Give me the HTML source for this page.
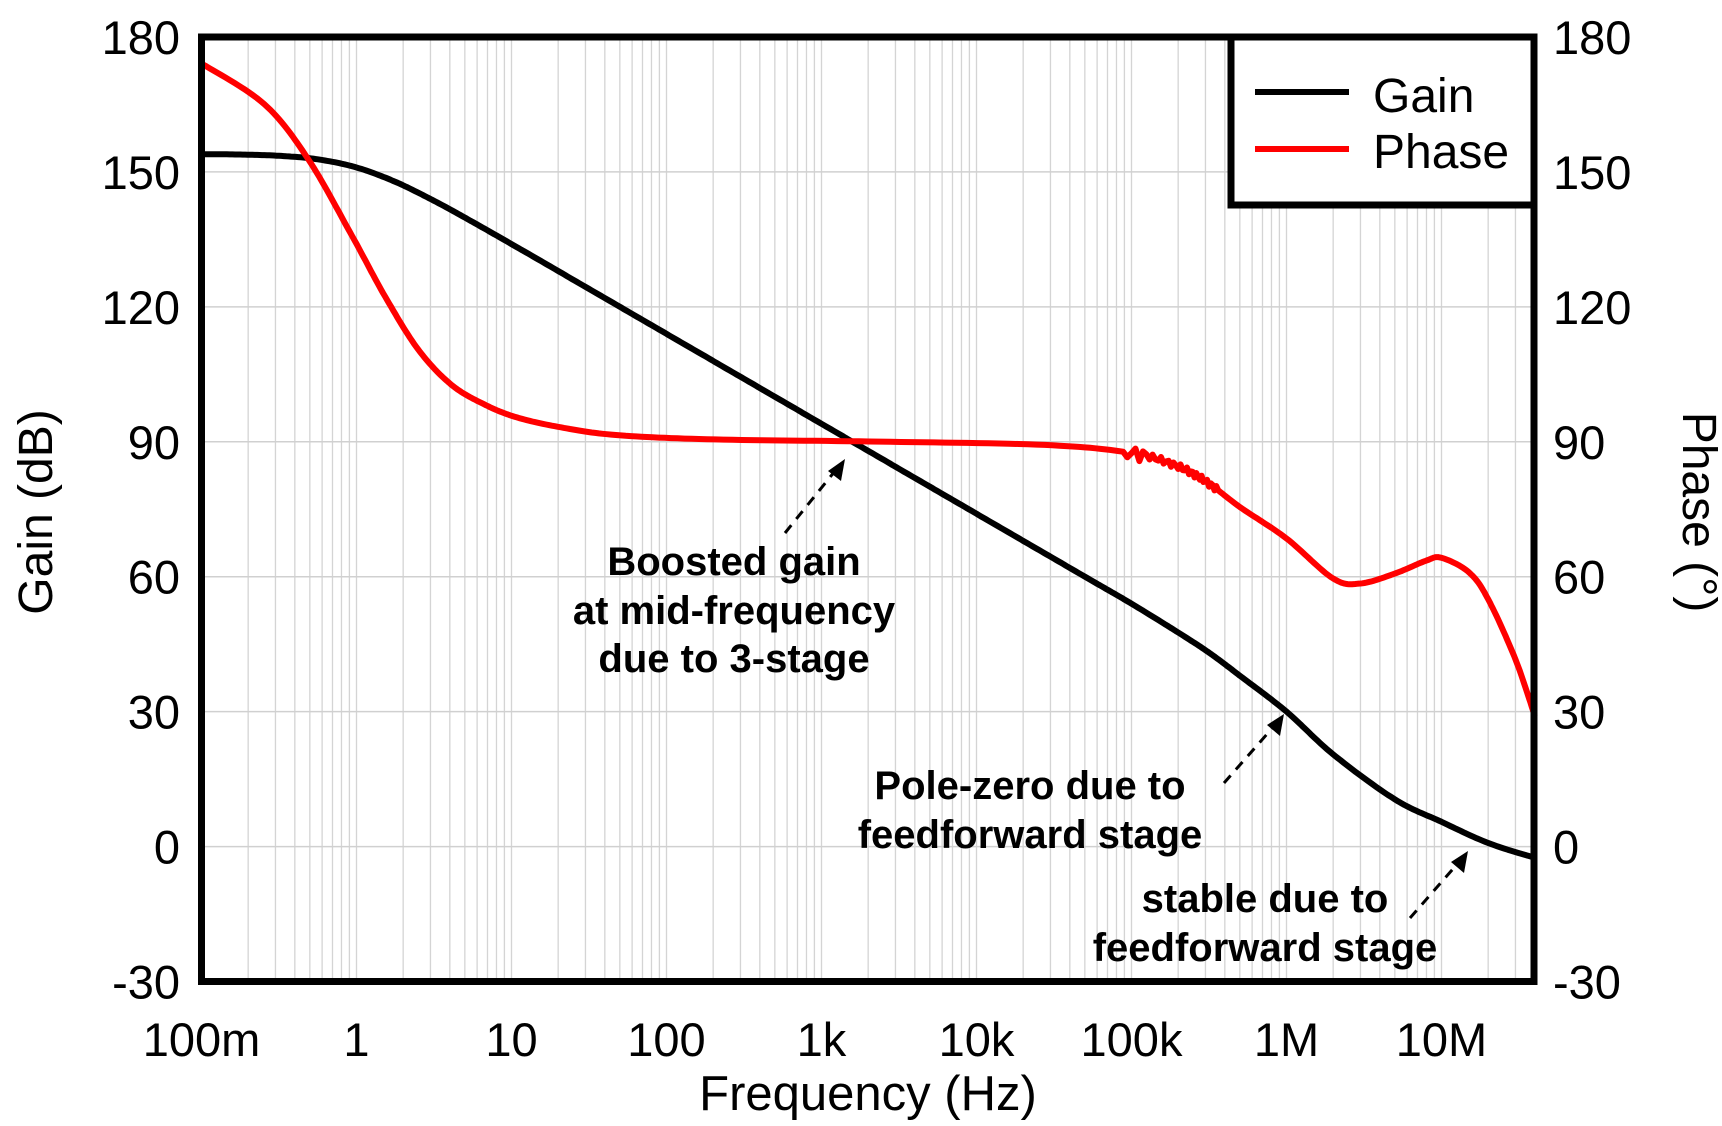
<!DOCTYPE html>
<html><head><meta charset="utf-8"><style>
body{margin:0;background:#fff}
svg{display:block}
text{font-family:"Liberation Sans",Arial,sans-serif;fill:#000}
</style></head><body>
<svg id="s" width="1722" height="1126" viewBox="0 0 1722 1126" xmlns="http://www.w3.org/2000/svg">
<g id="grid"></g>
<path id="gain" fill="none" stroke="#000" stroke-width="6" stroke-linejoin="round"/>
<path id="phase" fill="none" stroke="#ff0000" stroke-width="6" stroke-linejoin="round"/>
<rect x="201.5" y="37" width="1332.5" height="944.5" fill="none" stroke="#000" stroke-width="7"/>
<rect x="1231" y="37" width="303" height="168" fill="#fff" stroke="#000" stroke-width="7"/>
<line x1="1255" y1="92" x2="1349" y2="92" stroke="#000" stroke-width="6"/>
<line x1="1255" y1="149" x2="1349" y2="149" stroke="#ff0000" stroke-width="6"/>
<text x="1373" y="112" font-size="48">Gain</text>
<text x="1373" y="168" font-size="48">Phase</text>
<g id="ticks" font-size="47"></g>
<text x="868" y="1110" font-size="49" text-anchor="middle">Frequency (Hz)</text>
<text transform="translate(52,512) rotate(-90)" font-size="48" text-anchor="middle">Gain (dB)</text>
<text transform="translate(1683,512) rotate(90)" font-size="48" text-anchor="middle">Phase (°)</text>
<g font-size="40" font-weight="bold" text-anchor="middle">
<text x="734" y="575">Boosted gain</text>
<text x="734" y="624">at mid-frequency</text>
<text x="734" y="672">due to 3-stage</text>
<text x="1030" y="799">Pole-zero due to</text>
<text x="1030" y="848">feedforward stage</text>
<text x="1265" y="912">stable due to</text>
<text x="1265" y="961">feedforward stage</text>
</g>
<g stroke="#000" stroke-width="3" stroke-dasharray="10,8" fill="none">
<line x1="785" y1="533" x2="835" y2="471"/>
<line x1="1224" y1="783" x2="1275" y2="725"/>
<line x1="1410" y1="918" x2="1459" y2="862"/>
</g>
<g fill="#000">
<polygon points="845,459 841,481 828,471"/>
<polygon points="1284,714 1280,736 1267,725"/>
<polygon points="1468,851 1464,873 1451,862"/>
</g>
</svg>
<script>
const L=201.5,R=1534,T=37,B=981.5,D=155;
const X=f=>L+D*(Math.log10(f)+1);
const Y=v=>T+(180-v)*(B-T)/210;
let g="";
for(let d=-1;d<8;d++){for(let m=1;m<10;m++){const f=m*Math.pow(10,d);const x=X(f);if(x>L&&x<R)g+=`<line x1="${x}" y1="${T}" x2="${x}" y2="${B}" stroke="#d4d4d4" stroke-width="1.3"/>`;}}
for(let v=-30;v<=180;v+=30){const y=Y(v);if(v>-30&&v<180)g+=`<line x1="${L}" y1="${y}" x2="${R}" y2="${y}" stroke="#d0d0d0" stroke-width="1.5"/>`;}
document.getElementById("grid").innerHTML=g;
let t="";
for(let v=-30;v<=180;v+=30){const y=Y(v)+17;t+=`<text x="180" y="${y}" text-anchor="end">${v}</text><text x="1553" y="${y}">${v}</text>`;}
const xl=["100m","1","10","100","1k","10k","100k","1M","10M"];
xl.forEach((s,i)=>{t+=`<text x="${L+D*i}" y="1056" text-anchor="middle">${s}</text>`;});
document.getElementById("ticks").innerHTML=t;
function spline(pts,noise){pts=pts.map(p=>[Math.log10(p[0]),p[1]]);let out=[];
for(let i=0;i<pts.length-1;i++){const p0=pts[Math.max(0,i-1)],p1=pts[i],p2=pts[i+1],p3=pts[Math.min(pts.length-1,i+2)];
for(let k=0;k<16;k++){const s=k/16,s2=s*s,s3=s2*s;
const c=(a,b,c_,d)=>0.5*((2*b)+(-a+c_)*s+(2*a-5*b+4*c_-d)*s2+(-a+3*b-3*c_+d)*s3);
out.push([c(p0[0],p1[0],p2[0],p3[0]),c(p0[1],p1[1],p2[1],p3[1])]);}}
out.push(pts[pts.length-1]);
if(noise){out=out.map((p,i)=>{const lf=p[0];if(lf>4.97&&lf<5.55){const a=(lf<5.1?1.5:0.7);return [p[0],p[1]+a*Math.sin(i*2.3)];}return p;});}
return "M"+out.map(p=>(L+D*(p[0]+1)).toFixed(1)+","+Y(p[1]).toFixed(1)).join("L");}
const gp=[];
for(let e=-1;e<=5.01;e+=0.25){const f=Math.pow(10,e);gp.push([f,154-20*Math.log10(Math.sqrt(1+f*f))]);}
[[2e5,47.6],[3.2e5,43],[5e5,38],[1e6,30],[2e6,20.5],[5e6,10.5],[1e7,5.5],[2e7,0.8],[4e7,-2.5]].forEach(p=>gp.push(p));
document.getElementById("gain").setAttribute("d",spline(gp));
const raw=[[183,58],[240,95],[280,145],[320,215],[350,270],[380,318],[410,350],[440,368],[470,380],[510,389],[560,396],[650,400],[800,402],[950,405]];
const pp=raw.map(p=>[Math.pow(10,(p[0]-183)/141-1),180-(p[1]-34)*210/859]);
[[100000,87.5],[200000,84.5],[316000,80.7],[500000,75.5],[1e6,68.5],[2e6,59.6],[3e6,58.5],[5e6,60.7],[8e6,63.6],[1e7,64.2],[1.5e7,61],[2e7,55],[3e7,41.6],[4e7,29]].forEach(p=>pp.push(p));
document.getElementById("phase").setAttribute("d",spline(pp,true));
</script>
</body></html>
